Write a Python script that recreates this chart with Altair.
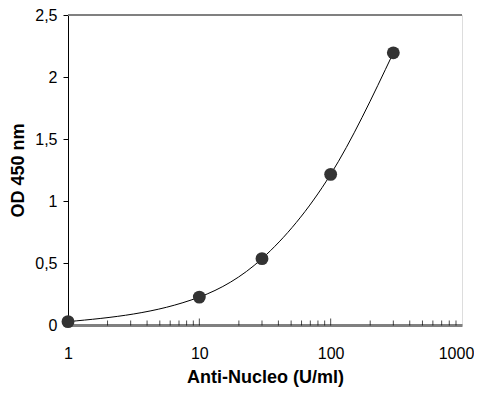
import altair as alt
import pandas as pd

conc = [1, 10, 30, 100, 300]
od = [0.027, 0.225, 0.535, 1.215, 2.195]

minor_ticks = [2, 3, 4, 5, 6, 7, 8, 9, 20, 30, 40, 50, 60, 70, 80, 90,
               200, 300, 400, 500, 600, 700, 800, 900]
major_ticks = [10, 100]
x_labels = [1, 10, 100, 1000]
y_ticks = [0, 0.5, 1, 1.5, 2, 2.5]

df = pd.DataFrame({"conc": conc, "od": od})
minor_df = pd.DataFrame({"x": minor_ticks, "y": [0] * len(minor_ticks)})
major_df = pd.DataFrame({"x": major_ticks, "y": [0] * len(major_ticks)})
top_df = pd.DataFrame({"y": [max(y_ticks)]})

FONT = "Liberation Sans"

xscale = alt.Scale(type="log", domain=[1, 1000], nice=False)
yscale = alt.Scale(domain=[0, 2.5], nice=False, zero=True)

x_enc = alt.X(
    "conc:Q", scale=xscale,
    axis=alt.Axis(
        title="Anti-Nucleo (U/ml)", values=x_labels, format="~g",
        grid=False, ticks=False, domainColor="#808080", domainWidth=3,
        labelFlush=False, labelOverlap=False,
        labelOffset={"expr": "datum.value >= 1000 ? -6 : 0"},
        labelFont=FONT, labelFontSize=16, labelColor="#000000", labelPadding=20,
        titleFont=FONT, titleFontSize=18, titleFontWeight="bold", titleColor="#000000",
        titlePadding=7,
    ),
)
y_enc = alt.Y(
    "od:Q", scale=yscale,
    axis=alt.Axis(
        title="OD 450 nm", values=y_ticks,
        labelExpr="replace(toString(datum.value), '.', ',')",
        grid=False, ticks=True, tickSize=5, tickColor="#000000",
        domainColor="#000000", domainWidth=1,
        labelFont=FONT, labelFontSize=16, labelColor="#000000", labelPadding=6,
        titleFont=FONT, titleFontSize=18, titleFontWeight="bold", titleColor="#000000",
        titlePadding=7,
    ),
)

top_rule = alt.Chart(top_df).mark_rule(color="#808080", strokeWidth=2).encode(
    y=alt.Y("y:Q", scale=yscale)
)
line = alt.Chart(df).mark_line(color="#000000", strokeWidth=1, interpolate="monotone").encode(
    x=x_enc, y=y_enc
)
points = alt.Chart(df).mark_circle(color="#333333", opacity=1, size=165).encode(
    x=alt.X("conc:Q", scale=xscale), y=alt.Y("od:Q", scale=yscale)
)
minor = alt.Chart(minor_df).mark_tick(color="#000000", size=5, thickness=1, yOffset=-2, orient="vertical").encode(
    x=alt.X("x:Q", scale=xscale), y=alt.Y("y:Q", scale=yscale)
)
major = alt.Chart(major_df).mark_tick(color="#000000", size=7, thickness=1, yOffset=-3, orient="vertical").encode(
    x=alt.X("x:Q", scale=xscale), y=alt.Y("y:Q", scale=yscale)
)

chart = alt.layer(top_rule, minor, major, line, points).properties(
    width=394, height=310,
    autosize=alt.AutoSizeParams(type="none"),
    padding={"left": 60, "top": 7, "right": 12, "bottom": 63},
).configure_view(
    stroke="#000000", strokeWidth=1
).configure(background="#ffffff")

chart.save("out.html", embed_options={"renderer": "svg", "actions": False})
